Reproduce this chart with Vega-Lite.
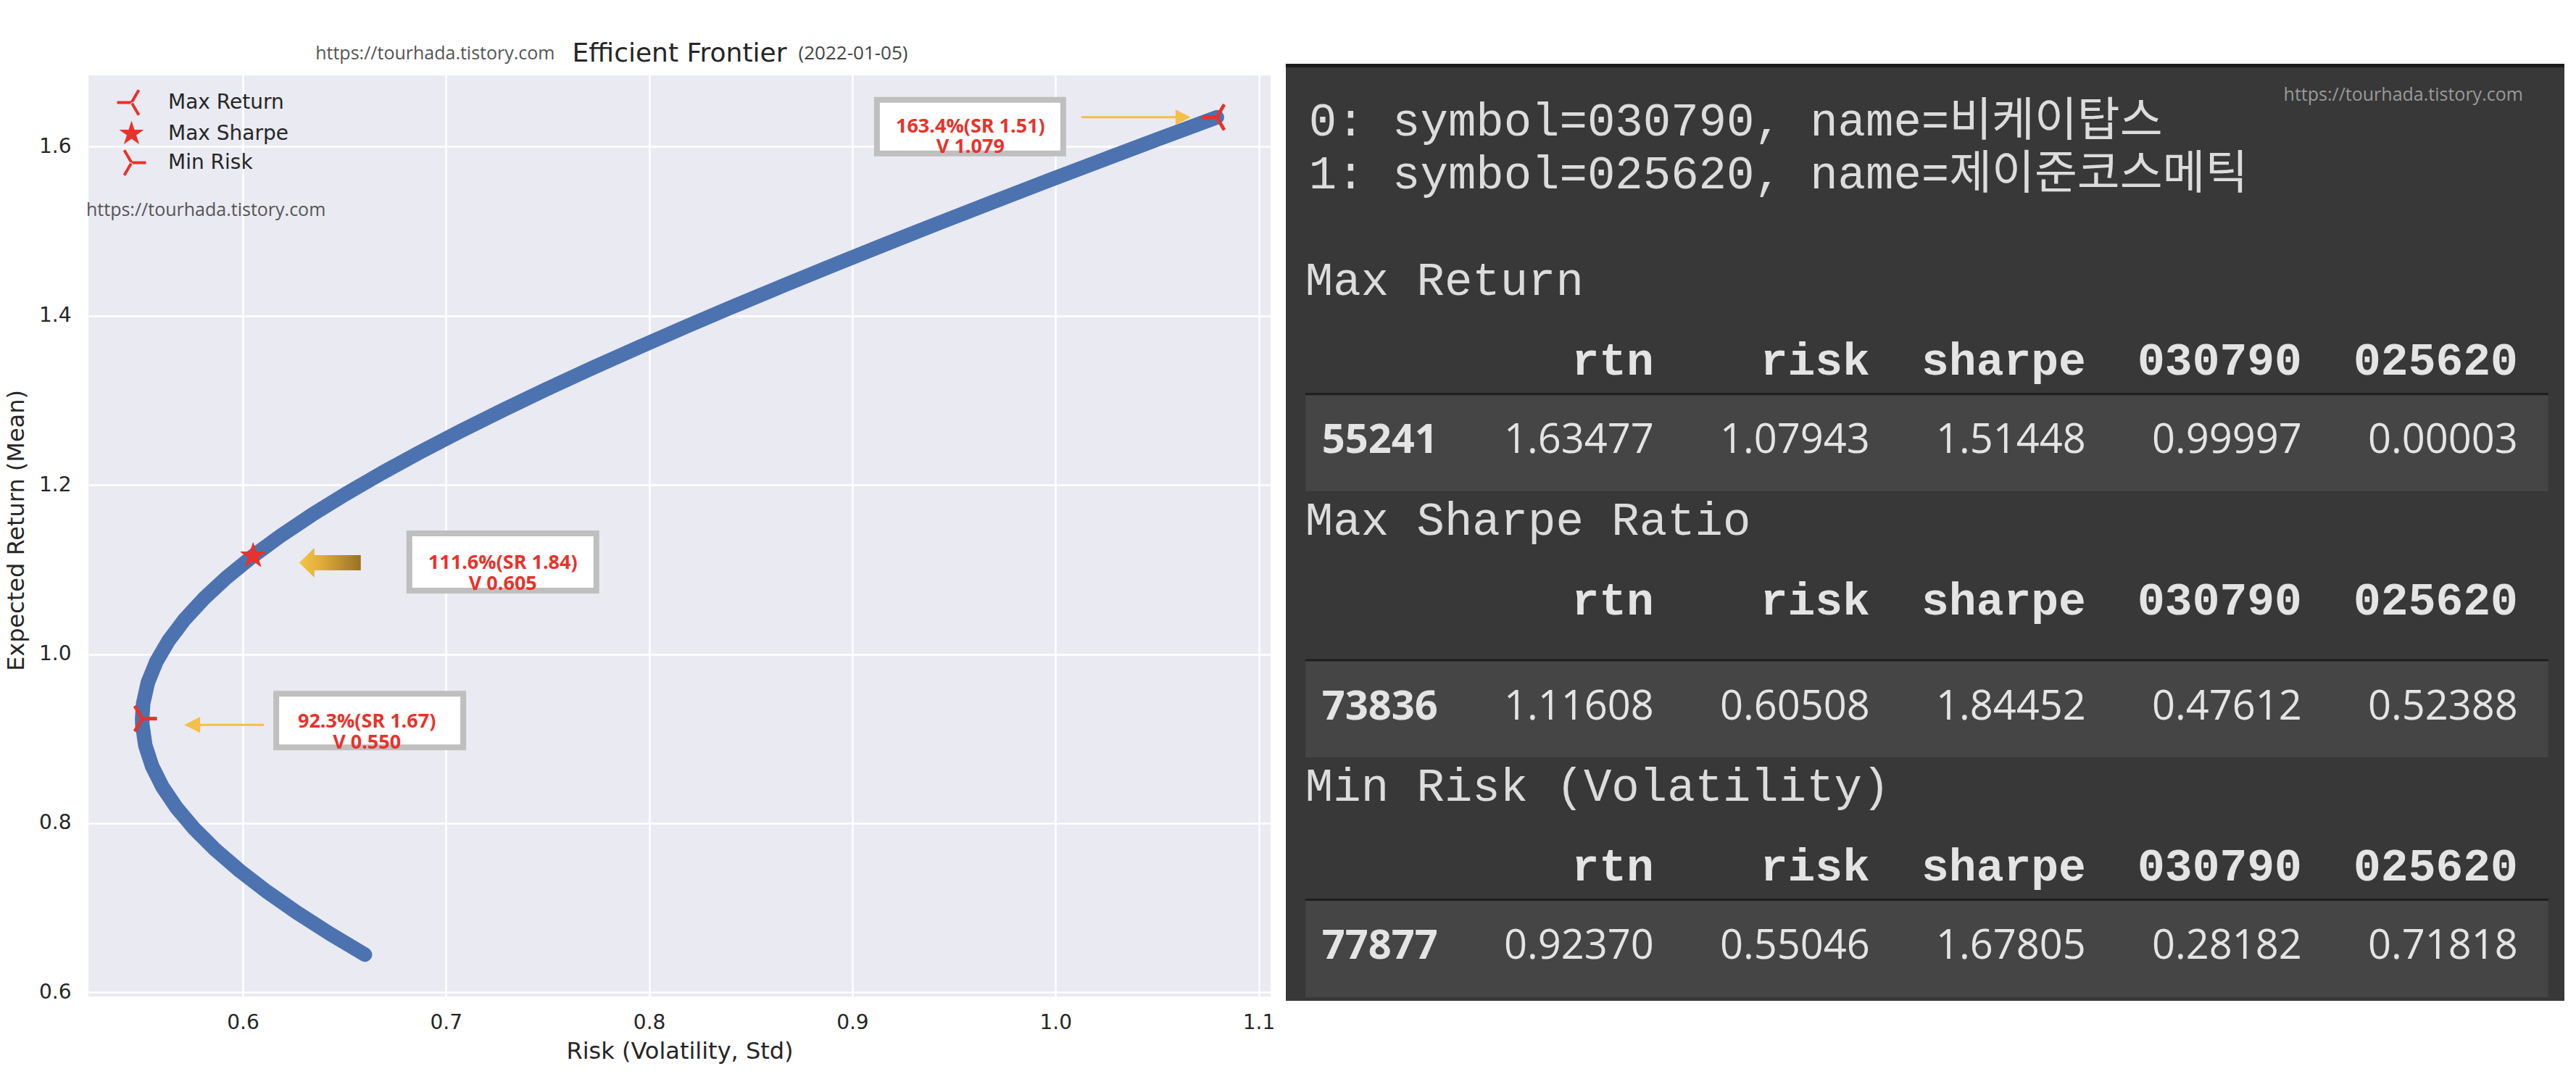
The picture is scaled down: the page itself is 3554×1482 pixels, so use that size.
{
  "$schema": "https://vega.github.io/schema/vega-lite/v6.json",
  "background": "#ffffff",
  "padding": {"left": 6, "top": 55, "right": 0, "bottom": 12},
  "spacing": 14,
  "datasets": {
    "frontier": [
      {"w": 0, "risk": 0.66010, "rtn": 0.64470},
      {"w": 0.025, "risk": 0.64283, "rtn": 0.66945},
      {"w": 0.05, "risk": 0.62675, "rtn": 0.69420},
      {"w": 0.075, "risk": 0.61195, "rtn": 0.71896},
      {"w": 0.1, "risk": 0.59854, "rtn": 0.74371},
      {"w": 0.125, "risk": 0.58660, "rtn": 0.76846},
      {"w": 0.15, "risk": 0.57623, "rtn": 0.79321},
      {"w": 0.175, "risk": 0.56751, "rtn": 0.81796},
      {"w": 0.2, "risk": 0.56053, "rtn": 0.84271},
      {"w": 0.225, "risk": 0.55534, "rtn": 0.86747},
      {"w": 0.25, "risk": 0.55199, "rtn": 0.89222},
      {"w": 0.275, "risk": 0.55053, "rtn": 0.91697},
      {"w": 0.28182, "risk": 0.55046, "rtn": 0.92370},
      {"w": 0.3, "risk": 0.55096, "rtn": 0.94172},
      {"w": 0.325, "risk": 0.55328, "rtn": 0.96647},
      {"w": 0.35, "risk": 0.55748, "rtn": 0.99122},
      {"w": 0.375, "risk": 0.56349, "rtn": 1.01598},
      {"w": 0.4, "risk": 0.57128, "rtn": 1.04073},
      {"w": 0.425, "risk": 0.58076, "rtn": 1.06548},
      {"w": 0.45, "risk": 0.59186, "rtn": 1.09023},
      {"w": 0.47612, "risk": 0.60508, "rtn": 1.11608},
      {"w": 0.5, "risk": 0.61854, "rtn": 1.13974},
      {"w": 0.525, "risk": 0.63393, "rtn": 1.16449},
      {"w": 0.55, "risk": 0.65057, "rtn": 1.18924},
      {"w": 0.575, "risk": 0.66835, "rtn": 1.21399},
      {"w": 0.6, "risk": 0.68720, "rtn": 1.23874},
      {"w": 0.625, "risk": 0.70703, "rtn": 1.26350},
      {"w": 0.65, "risk": 0.72775, "rtn": 1.28825},
      {"w": 0.675, "risk": 0.74928, "rtn": 1.31300},
      {"w": 0.7, "risk": 0.77158, "rtn": 1.33775},
      {"w": 0.725, "risk": 0.79456, "rtn": 1.36250},
      {"w": 0.75, "risk": 0.81818, "rtn": 1.38725},
      {"w": 0.775, "risk": 0.84237, "rtn": 1.41200},
      {"w": 0.8, "risk": 0.86709, "rtn": 1.43676},
      {"w": 0.825, "risk": 0.89230, "rtn": 1.46151},
      {"w": 0.85, "risk": 0.91795, "rtn": 1.48626},
      {"w": 0.875, "risk": 0.94402, "rtn": 1.51101},
      {"w": 0.9, "risk": 0.97046, "rtn": 1.53576},
      {"w": 0.925, "risk": 0.99725, "rtn": 1.56051},
      {"w": 0.95, "risk": 1.02435, "rtn": 1.58527},
      {"w": 0.975, "risk": 1.05176, "rtn": 1.61002},
      {"w": 0.99997, "risk": 1.07943, "rtn": 1.63477}
    ],
    "picks": [
      {"kind": "Max Return", "title": "Max Return", "id": "55241", "rtn": 1.63477, "risk": 1.07943, "sharpe": 1.51448, "030790": 0.99997, "025620": 0.00003, "note": "163.4%(SR 1.51)\nV 1.079", "tln": 6, "hln": 9, "ln": 12},
      {"kind": "Max Sharpe", "title": "Max Sharpe Ratio", "id": "73836", "rtn": 1.11608, "risk": 0.60508, "sharpe": 1.84452, "030790": 0.47612, "025620": 0.52388, "note": "111.6%(SR 1.84)\nV 0.605", "tln": 15, "hln": 18, "ln": 22},
      {"kind": "Min Risk", "title": "Min Risk (Volatility)", "id": "77877", "rtn": 0.92370, "risk": 0.55046, "sharpe": 1.67805, "030790": 0.28182, "025620": 0.71818, "note": "92.3%(SR 1.67)\nV 0.550", "tln": 25, "hln": 28, "ln": 31}
    ],
    "stocks": [
      {"line": "0: symbol=030790, name=비케이탑스", "ln": 0},
      {"line": "1: symbol=025620, name=제이준코스메틱", "ln": 2}
    ]
  },
  "hconcat": [
    {
      "width": 1631,
      "height": 1287,
      "view": {"fill": "#eaeaf2", "stroke": null},
      "layer": [
        {
          "description": "figure margin above the axes frame",
          "data": {"values": [{}]},
          "mark": {"type": "rect", "fill": "#ffffff"},
          "encoding": {
            "x": {"datum": 0.52401, "type": "quantitative", "scale": {"domain": [0.52401, 1.10588], "nice": false, "zero": false}},
            "x2": {"datum": 1.10588},
            "y": {"datum": 1.6843, "type": "quantitative", "scale": {"domain": [0.5952, 1.698], "nice": false, "zero": false}},
            "y2": {"datum": 1.698}
          }
        },
        {
          "encoding": {
            "x": {"field": "risk", "type": "quantitative",
                  "scale": {"domain": [0.52401, 1.10588], "nice": false, "zero": false},
                  "axis": {"title": "Risk (Volatility, Std)", "values": [0.6, 0.7, 0.8, 0.9, 1.0, 1.1], "format": ".1f", "labelPadding": 22, "titlePadding": 10}},
            "y": {"field": "rtn", "type": "quantitative",
                  "scale": {"domain": [0.5952, 1.698], "nice": false, "zero": false},
                  "axis": {"title": "Expected Return (Mean)", "values": [0.6, 0.8, 1.0, 1.2, 1.4, 1.6], "format": ".1f", "labelPadding": 24, "titlePadding": 14}}
          },
          "layer": [
            {
              "data": {"name": "frontier"},
              "mark": {"type": "line", "color": "#4c72b0", "strokeWidth": 20, "strokeCap": "round", "strokeJoin": "round"},
              "encoding": {"order": {"field": "w", "type": "quantitative"}}
            },
            {
              "data": {"name": "picks"},
              "transform": [{"filter": "datum.kind === 'Max Return'"}],
              "layer": [
                {"mark": {"type": "rule", "color": "#f4bf45", "strokeWidth": 3, "xOffset": -187, "x2Offset": -56, "yOffset": 0, "y2Offset": 0},
                 "encoding": {"x2": {"field": "risk"}}},
                {"mark": {"type": "point", "shape": "M0,0L-2,-1L-2,1Z", "size": 441, "filled": true, "fill": "#f4bf45", "strokeWidth": 0, "opacity": 1, "xOffset": -36, "yOffset": 0}},
                {"mark": {"type": "rect", "fill": "#ffffff", "stroke": "#bfbfbf", "strokeWidth": 8, "xOffset": -469, "x2Offset": -212, "yOffset": -24, "y2Offset": 50},
                 "encoding": {"x2": {"field": "risk"}, "y2": {"field": "rtn"}}},
                {"mark": {"type": "text", "font": "Open Sans", "fontWeight": "bold", "fontSize": 27, "color": "#e8322b", "align": "center", "baseline": "middle", "lineBreak": "\n", "lineHeight": 28, "dx": -340, "dy": 13},
                 "encoding": {"text": {"field": "note"}}}
              ]
            },
            {
              "data": {"name": "picks"},
              "transform": [{"filter": "datum.kind === 'Max Sharpe'"}],
              "layer": [
                {"mark": {"type": "point", "shape": "M0,0L2.1,-2.05L2.1,-1.05L8.5,-1.05L8.5,1.05L2.1,1.05L2.1,2.05Z", "size": 400, "filled": true,
                          "fill": {"gradient": "linear", "x1": 0, "y1": 0, "x2": 1, "y2": 0, "stops": [{"offset": 0, "color": "#f4c64a"}, {"offset": 0.35, "color": "#e2ad3a"}, {"offset": 1, "color": "#977126"}]},
                          "strokeWidth": 0, "opacity": 1, "xOffset": 63.5, "yOffset": 9.5}},
                {"mark": {"type": "rect", "fill": "#ffffff", "stroke": "#bfbfbf", "strokeWidth": 8, "xOffset": 215.5, "x2Offset": 473.5, "yOffset": -31, "y2Offset": 48},
                 "encoding": {"x2": {"field": "risk"}, "y2": {"field": "rtn"}}},
                {"mark": {"type": "text", "font": "Open Sans", "fontWeight": "bold", "fontSize": 27, "color": "#e8322b", "align": "center", "baseline": "middle", "lineBreak": "\n", "lineHeight": 29, "dx": 344.5, "dy": 9.5},
                 "encoding": {"text": {"field": "note"}}}
              ]
            },
            {
              "data": {"name": "picks"},
              "transform": [{"filter": "datum.kind === 'Min Risk'"}],
              "layer": [
                {"mark": {"type": "rule", "color": "#f4bf45", "strokeWidth": 3, "xOffset": 79, "x2Offset": 168, "yOffset": 8.5, "y2Offset": 8.5},
                 "encoding": {"x2": {"field": "risk"}}},
                {"mark": {"type": "point", "shape": "M0,0L2,-1L2,1Z", "size": 484, "filled": true, "fill": "#f4bf45", "strokeWidth": 0, "opacity": 1, "xOffset": 58, "yOffset": 8.5}},
                {"mark": {"type": "rect", "fill": "#ffffff", "stroke": "#bfbfbf", "strokeWidth": 8, "xOffset": 185, "x2Offset": 443, "yOffset": -34.5, "y2Offset": 39.5},
                 "encoding": {"x2": {"field": "risk"}, "y2": {"field": "rtn"}}},
                {"mark": {"type": "text", "font": "Open Sans", "fontWeight": "bold", "fontSize": 27, "color": "#e8322b", "align": "center", "baseline": "middle", "lineBreak": "\n", "lineHeight": 29, "dx": 310, "dy": 4},
                 "encoding": {"text": {"field": "note"}}}
              ]
            },
            {
              "data": {"name": "picks"},
              "mark": {"type": "point", "filled": true, "fill": "#e8322b", "stroke": "#e8322b", "strokeWidth": 1, "opacity": 1, "size": 1600},
              "encoding": {
                "shape": {"field": "kind", "type": "nominal",
                          "scale": {"domain": ["Max Return", "Max Sharpe", "Min Risk"],
                                    "range": ["M0,-0.1L-1,-0.1L-1,0.1L0,0.1ZM0.0866,0.05L0.5866,-0.816L0.4134,-0.916L-0.0866,-0.05ZM0.0866,-0.05L0.5866,0.816L0.4134,0.916L-0.0866,0.05Z",
                                              "M0,-0.9L0.202,-0.278L0.856,-0.278L0.327,0.106L0.529,0.728L0,0.344L-0.529,0.728L-0.327,0.106L-0.856,-0.278L-0.202,-0.278Z",
                                              "M0,-0.1L1,-0.1L1,0.1L0,0.1ZM-0.0866,0.05L-0.5866,-0.816L-0.4134,-0.916L0.0866,-0.05ZM-0.0866,-0.05L-0.5866,0.816L-0.4134,0.916L0.0866,0.05Z"]},
                          "legend": {"title": null, "orient": "none", "legendX": 39, "legendY": 33}}
              }
            }
          ]
        },
        {
          "data": {"values": [{}]},
          "mark": {"type": "text", "font": "Open Sans", "fontSize": 25, "color": "#555555", "align": "left", "baseline": "middle", "dx": -3},
          "encoding": {
            "x": {"datum": 0.52401, "type": "quantitative", "scale": {"domain": [0.52401, 1.10588], "nice": false, "zero": false}},
            "y": {"datum": 1.525, "type": "quantitative", "scale": {"domain": [0.5952, 1.698], "nice": false, "zero": false}},
            "text": {"value": "https://tourhada.tistory.com"}
          }
        },
        {
          "data": {"values": [{}]},
          "mark": {"type": "text", "font": "DejaVu Sans", "fontSize": 36, "color": "#262626", "align": "center", "baseline": "middle"},
          "encoding": {
            "x": {"datum": 0.81495, "type": "quantitative", "scale": {"domain": [0.52401, 1.10588], "nice": false, "zero": false}},
            "y": {"datum": 1.71, "type": "quantitative", "scale": {"domain": [0.5952, 1.698], "nice": false, "zero": false}},
            "text": {"value": "Efficient Frontier"}
          }
        },
        {
          "data": {"values": [{}]},
          "mark": {"type": "text", "font": "Open Sans", "fontSize": 25, "color": "#555555", "align": "right", "baseline": "middle", "dx": -172},
          "encoding": {
            "x": {"datum": 0.81495, "type": "quantitative", "scale": {"domain": [0.52401, 1.10588], "nice": false, "zero": false}},
            "y": {"datum": 1.71, "type": "quantitative", "scale": {"domain": [0.5952, 1.698], "nice": false, "zero": false}},
            "text": {"value": "https://tourhada.tistory.com"}
          }
        },
        {
          "data": {"values": [{}]},
          "mark": {"type": "text", "font": "Open Sans", "fontSize": 26, "color": "#444444", "align": "left", "baseline": "middle", "dx": 164},
          "encoding": {
            "x": {"datum": 0.81495, "type": "quantitative", "scale": {"domain": [0.52401, 1.10588], "nice": false, "zero": false}},
            "y": {"datum": 1.71, "type": "quantitative", "scale": {"domain": [0.5952, 1.698], "nice": false, "zero": false}},
            "text": {"value": "(2022-01-05)"}
          }
        }
      ]
    },
    {
      "width": 1764,
      "height": 1293,
      "view": {"fill": "#383838", "stroke": null},
      "layer": [
        {
          "description": "dark top edge of the console panel",
          "data": {"values": [{}]},
          "mark": {"type": "rect", "fill": "#1c1c1c", "xOffset": -210, "x2Offset": 64, "y2Offset": 5},
          "encoding": {
            "x": {"datum": "idx", "scale": {"type": "point", "domain": ["idx", "rtn", "risk", "sharpe", "030790", "025620"], "padding": 0.4597, "align": 0.766}, "axis": null},
            "x2": {"datum": "025620"},
            "y": {"datum": -2.17, "scale": {"domain": [-2.17, 33.04], "reverse": true, "nice": false, "zero": false}, "axis": null},
            "y2": {"datum": -2.17}
          }
        },
        {
          "data": {"name": "picks"},
          "mark": {"type": "rect", "fill": "#1e1e1e", "xOffset": -183, "x2Offset": 42, "yOffset": -66, "y2Offset": 70},
          "encoding": {
            "x": {"datum": "idx", "scale": {"type": "point", "domain": ["idx", "rtn", "risk", "sharpe", "030790", "025620"], "padding": 0.4597, "align": 0.766}, "axis": null},
            "x2": {"datum": "025620"},
            "y": {"field": "ln", "type": "quantitative", "scale": {"domain": [-2.17, 33.04], "reverse": true, "nice": false, "zero": false}, "axis": null},
            "y2": {"field": "ln"}
          }
        },
        {
          "data": {"name": "picks"},
          "mark": {"type": "rect", "fill": "#454545", "xOffset": -183, "x2Offset": 42, "yOffset": -63, "y2Offset": 70},
          "encoding": {
            "x": {"datum": "idx", "scale": {"type": "point", "domain": ["idx", "rtn", "risk", "sharpe", "030790", "025620"], "padding": 0.4597, "align": 0.766}, "axis": null},
            "x2": {"datum": "025620"},
            "y": {"field": "ln", "type": "quantitative", "scale": {"domain": [-2.17, 33.04], "reverse": true, "nice": false, "zero": false}, "axis": null},
            "y2": {"field": "ln"}
          }
        },
        {
          "data": {"name": "picks"},
          "transform": [{"fold": ["rtn", "risk", "sharpe", "030790", "025620"], "as": ["col", "val"]}],
          "mark": {"type": "text", "font": "Open Sans", "fontSize": 56, "color": "#e4e4e4", "align": "right", "baseline": "middle"},
          "encoding": {
            "x": {"field": "col", "type": "nominal", "scale": {"type": "point", "domain": ["idx", "rtn", "risk", "sharpe", "030790", "025620"], "padding": 0.4597, "align": 0.766}, "axis": null},
            "y": {"field": "ln", "type": "quantitative", "scale": {"domain": [-2.17, 33.04], "reverse": true, "nice": false, "zero": false}, "axis": null},
            "text": {"field": "val", "type": "quantitative", "format": ".5f"}
          }
        },
        {
          "data": {"name": "picks"},
          "mark": {"type": "text", "font": "Open Sans", "fontWeight": "bold", "fontSize": 56, "color": "#e4e4e4", "align": "right", "baseline": "middle"},
          "encoding": {
            "x": {"datum": "idx", "scale": {"type": "point", "domain": ["idx", "rtn", "risk", "sharpe", "030790", "025620"], "padding": 0.4597, "align": 0.766}, "axis": null},
            "y": {"field": "ln", "type": "quantitative", "scale": {"domain": [-2.17, 33.04], "reverse": true, "nice": false, "zero": false}, "axis": null},
            "text": {"field": "id", "type": "nominal"}
          }
        },
        {
          "data": {"name": "picks"},
          "transform": [{"fold": ["rtn", "risk", "sharpe", "030790", "025620"], "as": ["col", "val"]}],
          "mark": {"type": "text", "font": "Liberation Mono", "fontWeight": "bold", "fontSize": 63, "color": "#e4e4e4", "align": "right", "baseline": "middle"},
          "encoding": {
            "x": {"field": "col", "type": "nominal", "scale": {"type": "point", "domain": ["idx", "rtn", "risk", "sharpe", "030790", "025620"], "padding": 0.4597, "align": 0.766}, "axis": null},
            "y": {"field": "hln", "type": "quantitative", "scale": {"domain": [-2.17, 33.04], "reverse": true, "nice": false, "zero": false}, "axis": null},
            "text": {"field": "col", "type": "nominal"}
          }
        },
        {
          "data": {"name": "picks"},
          "mark": {"type": "text", "font": "Liberation Mono", "fontSize": 64, "color": "#dcdcdc", "align": "left", "baseline": "middle", "dx": -183},
          "encoding": {
            "x": {"datum": "idx", "scale": {"type": "point", "domain": ["idx", "rtn", "risk", "sharpe", "030790", "025620"], "padding": 0.4597, "align": 0.766}, "axis": null},
            "y": {"field": "tln", "type": "quantitative", "scale": {"domain": [-2.17, 33.04], "reverse": true, "nice": false, "zero": false}, "axis": null},
            "text": {"field": "title", "type": "nominal"}
          }
        },
        {
          "data": {"name": "stocks"},
          "mark": {"type": "text", "font": "Liberation Mono, Noto Sans CJK KR", "fontSize": 64, "color": "#dcdcdc", "align": "left", "baseline": "middle", "dx": -178},
          "encoding": {
            "x": {"datum": "idx", "scale": {"type": "point", "domain": ["idx", "rtn", "risk", "sharpe", "030790", "025620"], "padding": 0.4597, "align": 0.766}, "axis": null},
            "y": {"field": "ln", "type": "quantitative", "scale": {"domain": [-2.17, 33.04], "reverse": true, "nice": false, "zero": false}, "axis": null},
            "text": {"field": "line", "type": "nominal"}
          }
        },
        {
          "data": {"values": [{}]},
          "mark": {"type": "text", "font": "Open Sans", "fontSize": 25, "color": "#9a9a9a", "align": "right", "baseline": "middle", "dx": 7},
          "encoding": {
            "x": {"datum": "025620", "scale": {"type": "point", "domain": ["idx", "rtn", "risk", "sharpe", "030790", "025620"], "padding": 0.4597, "align": 0.766}, "axis": null},
            "y": {"datum": -1, "scale": {"domain": [-2.17, 33.04], "reverse": true, "nice": false, "zero": false}, "axis": null},
            "text": {"value": "https://tourhada.tistory.com"}
          }
        }
      ]
    }
  ],
  "config": {
    "view": {"stroke": null},
    "axis": {"domain": false, "ticks": false, "grid": true, "gridColor": "#ffffff", "gridWidth": 2.5,
             "labelFont": "DejaVu Sans", "labelFontSize": 28, "labelColor": "#262626",
             "titleFont": "DejaVu Sans", "titleFontSize": 32, "titleFontWeight": "normal", "titleColor": "#262626"},
    "legend": {"labelFont": "DejaVu Sans", "labelFontSize": 28, "labelColor": "#262626", "labelLimit": 400, "symbolSize": 1600,
               "labelOffset": 30, "rowPadding": 2, "padding": 0, "symbolStrokeWidth": 1,
               "symbolStrokeColor": "#e8322b", "symbolFillColor": "#e8322b"}
  }
}
